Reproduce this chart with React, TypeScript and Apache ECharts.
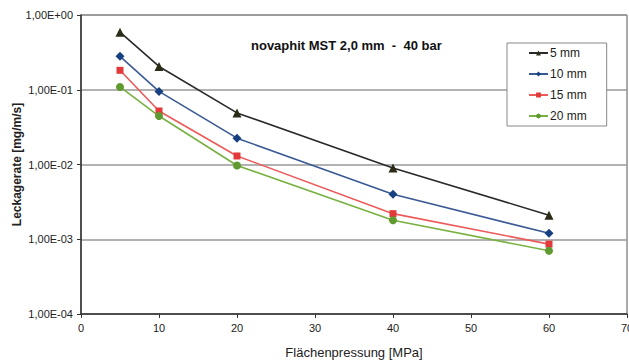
import React, { useEffect, useRef } from "react";
import * as echarts from "echarts";

const xValues = [5, 10, 20, 40, 60];
const seriesNames = ["5 mm", "10 mm", "15 mm", "20 mm"];
const values5 = [0.59, 0.205, 0.049, 0.009, 0.0021];
const values10 = [0.28, 0.095, 0.0225, 0.004, 0.0012];
const values15 = [0.182, 0.052, 0.013, 0.0022, 0.00086];
const values20 = [0.109, 0.0445, 0.0097, 0.0018, 0.0007];
const titleText = "novaphit MST 2,0 mm  -  40 bar";
const xName = "Flächenpressung [MPa]";
const yName = "Leckagerate [mg/m/s]";

const fmtSci = (v: number) => {
  const e = Math.round(Math.log10(v));
  const sign = e < 0 ? "-" : "+";
  const abs = Math.abs(e);
  return "1,00E" + sign + (abs < 10 ? "0" + abs : String(abs));
};

export default function App() {
  const ref = useRef<HTMLDivElement>(null);
  useEffect(() => {
    if (!ref.current) return;
    const chart = echarts.init(ref.current, undefined, { renderer: "svg" });
    const font = "Liberation Sans, Arial, sans-serif";
    const mk = (name: string, vals: number[], color: string, lineColor: string, symbol: string, size: number) => ({
      name,
      type: "line",
      data: xValues.map((x, i) => [x, vals[i]]),
      symbol,
      symbolSize: size,
      showSymbol: true,
      itemStyle: { color },
      lineStyle: { color: lineColor, width: 1.6 },
      z: 3,
    });
    chart.setOption({
      animation: false,
      backgroundColor: "#fff",
      textStyle: { fontFamily: font },
      title: {
        text: titleText,
        left: 246,
        top: 34,
        textStyle: { fontSize: 13, fontWeight: "bold", color: "#111", fontFamily: font },
      },
      legend: {
        orient: "vertical",
        left: 507,
        top: 43,
        backgroundColor: "#fff",
        borderColor: "#888",
        borderWidth: 1,
        padding: [4, 20, 4, 21],
        itemGap: 9,
        itemWidth: 19,
        itemHeight: 6,
        textStyle: { fontSize: 12, color: "#222", fontFamily: font, padding: [0, 0, 0, -3] },
        data: seriesNames,
        z: 10,
      },
      grid: {
        left: 81,
        right: 2,
        top: 15,
        bottom: 47,
        show: true,
        borderColor: "#555",
        borderWidth: 1,
        containLabel: false,
        outerBoundsMode: "none",
      },
      xAxis: {
        type: "value",
        min: 0,
        max: 70,
        interval: 10,
        name: xName,
        nameLocation: "middle",
        nameGap: 32,
        nameMoveOverlap: false,
        nameTextStyle: { fontSize: 13, color: "#222", fontFamily: font },
        axisLine: { show: true, lineStyle: { color: "#333", width: 1.5 } },
        axisTick: { show: true, length: 4, lineStyle: { color: "#333" } },
        axisLabel: { fontSize: 11, color: "#222", margin: 8, fontFamily: font },
        splitLine: { show: false },
      },
      yAxis: {
        type: "log",
        logBase: 10,
        min: 0.0001,
        max: 1,
        name: yName,
        nameLocation: "middle",
        nameGap: 58,
        nameMoveOverlap: false,
        nameTextStyle: { fontSize: 12, fontWeight: "bold", color: "#222", fontFamily: font },
        axisLine: { show: true, lineStyle: { color: "#333", width: 1.5 } },
        axisTick: { show: true, length: 4, lineStyle: { color: "#333" } },
        axisLabel: { fontSize: 11, color: "#222", margin: 8, formatter: fmtSci, fontFamily: font },
        splitLine: { show: true, lineStyle: { color: "#999", width: 1.5 } },
        minorTick: { show: false },
      },
      series: [
        mk(seriesNames[0], values5, "#2b2b18", "#2a2a2a", "triangle", 9),
        mk(seriesNames[1], values10, "#16407f", "#3a5a96", "diamond", 9),
        mk(seriesNames[2], values15, "#e23a3a", "#ec5a5a", "rect", 7),
        mk(seriesNames[3], values20, "#5e9a2f", "#78b142", "circle", 8),
      ],
    });
    return () => chart.dispose();
  }, []);
  return (
    <div
      ref={ref}
      style={{ position: "absolute", left: 0, top: 0, width: 629, height: 361 }}
    />
  );
}
